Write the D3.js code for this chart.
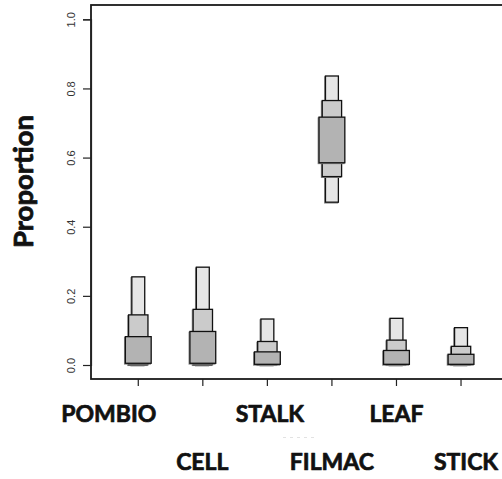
<!DOCTYPE html>
<html>
<head>
<meta charset="utf-8">
<script src="https://cdn.jsdelivr.net/npm/d3@7"></script>
<style>
  html, body { margin: 0; padding: 0; background: #fff; }
  svg { display: block; }
</style>
</head>
<body>
<svg id="chart" width="502" height="479"></svg>
<script>
// Categories along the x axis
const categories = ["POMBIO", "CELL", "STALK", "FILMAC", "LEAF", "STICK"];

// Interval bounds for each category (proportion scale)
const outerLow  = [0.000, 0.000, 0.000, 0.471, 0.000, 0.000];
const outerHigh = [0.255, 0.283, 0.133, 0.836, 0.135, 0.108];
const midLow    = [0.001, 0.001, 0.001, 0.545, 0.001, 0.001];
const midHigh   = [0.145, 0.161, 0.068, 0.765, 0.072, 0.054];
const innerLow  = [0.005, 0.005, 0.002, 0.585, 0.002, 0.002];
const innerHigh = [0.082, 0.097, 0.038, 0.717, 0.042, 0.031];

// Y axis ticks
const yTicks = [0.0, 0.2, 0.4, 0.6, 0.8, 1.0];

// Label layout: two staggered rows under the axis, with small nudges
const labelRow   = [0, 1, 0, 1, 0, 1];
const labelNudge = [-29.5, -0.5, 2.5, 0, 0, 5];

const svg = d3.select("#chart");

const plot = { left: 91, top: 5, right: 512, bottom: 379 };

const x = d3.scaleBand()
  .domain(categories)
  .range([106, 106 + 64.55 * categories.length]);

const y = d3.scaleLinear()
  .domain([0, 1])
  .range([365, 19.3]);

const bw = x.bandwidth();
const cx = c => x(c) + bw / 2;

// Interval layers: widest range drawn first (narrow, light), tightest last (wide, dark)
const layers = [
  { low: outerLow, high: outerHigh, width: 0.2, fill: "#e6e6e6" },
  { low: midLow,   high: midHigh,   width: 0.3, fill: "#cbcbcb" },
  { low: innerLow, high: innerHigh, width: 0.4, fill: "#b3b3b3" }
];

const marks = svg.append("g");
layers.forEach(layer => {
  const g = marks.append("g");
  // soft shadow edge
  g.selectAll("rect.shadow")
    .data(categories)
    .join("rect")
    .attr("class", "shadow")
    .attr("x", (c) => cx(c) - layer.width * bw / 2 - 0.8)
    .attr("y", (c, i) => y(layer.high[i]) + 0.8)
    .attr("width", layer.width * bw)
    .attr("height", (c, i) => y(layer.low[i]) - y(layer.high[i]))
    .attr("fill", "none")
    .attr("stroke", "#8a8a8a")
    .attr("stroke-width", 1.2);
  g.selectAll("rect.box")
    .data(categories)
    .join("rect")
    .attr("class", "box")
    .attr("x", (c) => cx(c) - layer.width * bw / 2)
    .attr("y", (c, i) => y(layer.high[i]))
    .attr("width", layer.width * bw)
    .attr("height", (c, i) => y(layer.low[i]) - y(layer.high[i]))
    .attr("fill", layer.fill)
    .attr("stroke", "#111")
    .attr("stroke-width", 1.3);
});

// Plot frame
svg.append("rect")
  .attr("x", plot.left)
  .attr("y", plot.top)
  .attr("width", plot.right - plot.left)
  .attr("height", plot.bottom - plot.top)
  .attr("fill", "none")
  .attr("stroke", "#1a1a1a")
  .attr("stroke-width", 1.8);

// Y axis
const yAxis = d3.axisLeft(y)
  .tickValues(yTicks)
  .tickFormat(d3.format(".1f"))
  .tickSize(8)
  .tickPadding(0);

const yg = svg.append("g")
  .attr("transform", `translate(${plot.left},0)`)
  .call(yAxis);
yg.select(".domain").attr("stroke", "#222").attr("stroke-width", 1.2);
yg.selectAll(".tick line").attr("stroke", "#222").attr("stroke-width", 1.2);
yg.selectAll(".tick text")
  .attr("transform", "rotate(-90)")
  .attr("x", 0)
  .attr("y", -16)
  .attr("dy", 0)
  .attr("text-anchor", "middle")
  .attr("fill", "#333")
  .style("font-family", "'Liberation Sans', Arial, sans-serif")
  .style("font-size", "11px");

// X axis ticks
const xAxis = d3.axisBottom(x)
  .tickSize(7)
  .tickFormat("");
const xg = svg.append("g")
  .attr("transform", `translate(0,${plot.bottom})`)
  .call(xAxis);
xg.select(".domain").remove();
xg.selectAll(".tick line").attr("stroke", "#222").attr("stroke-width", 1.2);

// Category labels in two staggered rows (heavy weight)
svg.append("g")
  .selectAll("text")
  .data(categories)
  .join("text")
  .attr("x", (c, i) => cx(c) + labelNudge[i])
  .attr("y", (c, i) => labelRow[i] === 0 ? 422 : 470)
  .attr("text-anchor", "middle")
  .attr("fill", "#111")
  .attr("stroke", "#111")
  .attr("stroke-width", 0.7)
  .attr("stroke-linejoin", "round")
  .style("font-family", "Lato, 'Open Sans', sans-serif")
  .style("font-weight", "bold")
  .style("font-size", "23px")
  .text(c => c);

// faint dashes below the middle labels
svg.append("line")
  .attr("x1", 283).attr("x2", 318)
  .attr("y1", 437.5).attr("y2", 437.5)
  .attr("stroke", "#e2e2e2")
  .attr("stroke-width", 1)
  .attr("stroke-dasharray", "3,4");

// Y axis title
svg.append("text")
  .attr("transform", `translate(33,181.5) rotate(-90)`)
  .attr("text-anchor", "middle")
  .attr("fill", "#111")
  .attr("stroke", "#111")
  .attr("stroke-width", 0.8)
  .attr("stroke-linejoin", "round")
  .style("font-family", "Lato, 'Open Sans', sans-serif")
  .style("font-weight", "bold")
  .style("font-size", "27.5px")
  .text("Proportion");
</script>
</body>
</html>
